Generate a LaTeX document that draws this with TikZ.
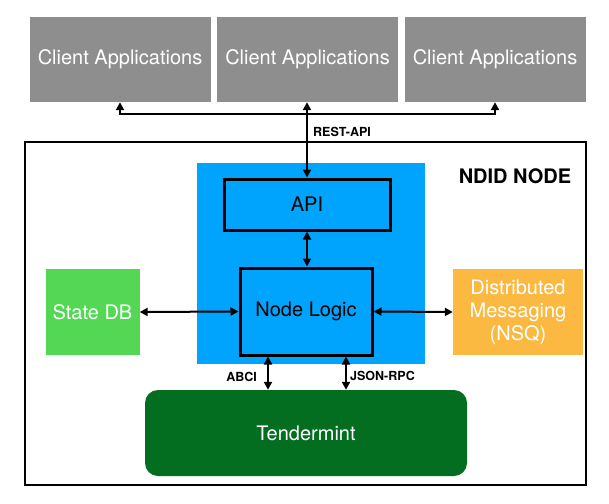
\documentclass[tikz,border=0pt]{standalone}
\usepackage{fontspec}
\setmainfont{TeX Gyre Heros}
\usetikzlibrary{arrows.meta,positioning}
\definecolor{cgray}{HTML}{8E8E8E}
\definecolor{cblue}{HTML}{00A4FC}
\definecolor{cgreen}{HTML}{55D756}
\definecolor{corange}{HTML}{FBB942}
\definecolor{cdkgreen}{HTML}{036E20}
\tikzset{
  box/.style={rectangle,inner sep=0pt,font=\fontsize{20}{23}\selectfont,align=center},
  client/.style={box,fill=cgray,text=white,minimum width=181pt,minimum height=85pt},
  inner/.style={box,draw=black,line width=3pt,text=black},
  lbl/.style={font=\bfseries\fontsize{12.5}{14}\selectfont,inner sep=0pt},
  conn/.style={line width=2pt,{Triangle[width=8pt,length=8pt]}-{Triangle[width=8pt,length=8pt]}},
}
\begin{document}
\begin{tikzpicture}[x=1pt,y=-1pt]
\useasboundingbox (0,0) rectangle (609,503);
% client applications
\node[client] (c1) at (120,59.5) {Client Applications};
\node[client] (c2) at (307.5,59.5) {Client Applications};
\node[client] (c3) at (495,59.5) {Client Applications};
% outer NDID node box
\node[rectangle,draw=black,line width=2pt,minimum width=561pt,minimum height=343pt,inner sep=0pt] (outer) at (305.5,313.5) {};
\node[font=\bfseries\fontsize{20}{24}\selectfont,inner sep=0pt] (title) at (515,176) {NDID NODE};
% blue container
\node[rectangle,fill=cblue,minimum width=228pt,minimum height=201pt,inner sep=0pt] (blue) at (311,263.5) {};
\node[inner,minimum width=166pt,minimum height=51pt] (api) at (307,204.5) {API};
\node[inner,minimum width=132pt,minimum height=87pt] (logic) at (306,311.5) {Node Logic};
% side boxes
\node[box,fill=cgreen,text=white,minimum width=94pt,minimum height=86pt] (sdb) at (92.5,312) {State DB};
\node[box,fill=corange,text=white,minimum width=130pt,minimum height=86pt] (dm) at (518,312) {Distributed\\Messaging\\(NSQ)};
% tendermint
\node[box,fill=cdkgreen,text=white,rounded corners=13pt,minimum width=322pt,minimum height=86pt] (tm) at (306,433) {Tendermint};
% connectors
\draw[conn] (c1.south) -- ++(0,12) -| (c3.south);
\draw[conn] (api.north) -- (api.north |- c2.south);
\node[lbl,anchor=west] (rest) at (313,132) {REST-API};
\draw[conn] (api.south) -- (logic.north -| api.south);
\draw[conn] (sdb.east) -- (logic.west);
\draw[conn] (logic.east) -- (dm.west);
\coordinate (abcitop) at ([xshift=-38pt]logic.south);
\coordinate (jsontop) at ([xshift=40pt]logic.south);
\draw[conn] (abcitop) -- (abcitop |- tm.north);
\draw[conn] (jsontop) -- (jsontop |- tm.north);
\node[lbl,anchor=east] (abci) at (257,377) {ABCI};
\node[lbl,anchor=west] (json) at (350,376) {JSON-RPC};
\end{tikzpicture}
\end{document}
